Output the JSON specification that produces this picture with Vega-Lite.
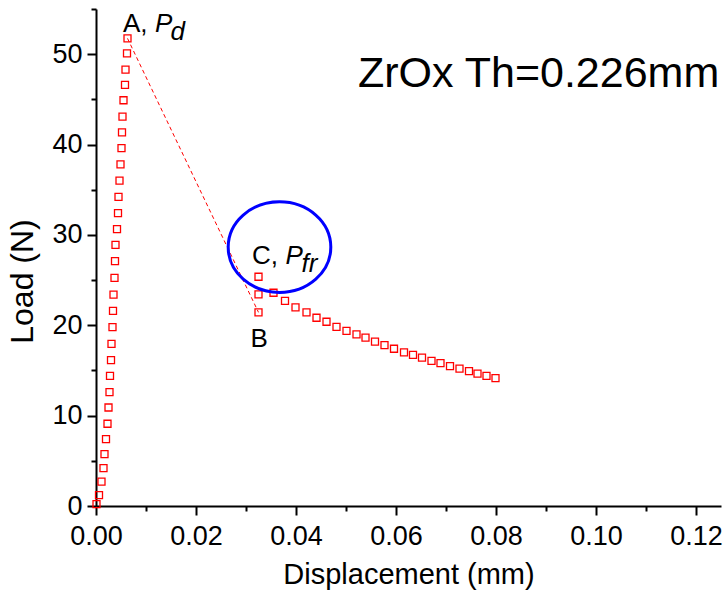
{
  "$schema": "https://vega.github.io/schema/vega-lite/v6.json",
  "width": 625,
  "height": 497,
  "autosize": {"type": "none"},
  "padding": {"left": 96, "top": 9, "right": 2, "bottom": 88},
  "background": "white",
  "config": {
    "font": "Liberation Sans",
    "view": {"stroke": null},
    "axis": {
      "grid": false,
      "domainColor": "black",
      "domainWidth": 2,
      "tickColor": "black",
      "tickWidth": 2,
      "labelColor": "black",
      "titleColor": "black",
      "labelFont": "Liberation Sans",
      "titleFont": "Liberation Sans",
      "labelFontSize": 27,
      "titleFontSize": 29,
      "titleFontWeight": "normal",
      "labelOverlap": false,
      "labelFlush": false
    }
  },
  "datasets": {
    "curve": [
      {"d": 0.0001, "load": 0.2},
      {"d": 0.0006, "load": 1.2},
      {"d": 0.0011, "load": 2.7},
      {"d": 0.0015, "load": 4.2},
      {"d": 0.0017, "load": 5.75},
      {"d": 0.002, "load": 7.4},
      {"d": 0.0023, "load": 9.1},
      {"d": 0.0025, "load": 10.9},
      {"d": 0.0027, "load": 12.6},
      {"d": 0.0028, "load": 14.4},
      {"d": 0.003, "load": 16.15},
      {"d": 0.0031, "load": 17.95},
      {"d": 0.0033, "load": 19.8},
      {"d": 0.0034, "load": 21.6},
      {"d": 0.0035, "load": 23.4},
      {"d": 0.0037, "load": 25.25},
      {"d": 0.0038, "load": 27.1},
      {"d": 0.0039, "load": 28.9},
      {"d": 0.0042, "load": 30.65},
      {"d": 0.0044, "load": 32.4},
      {"d": 0.0045, "load": 34.2},
      {"d": 0.0047, "load": 36.0},
      {"d": 0.0049, "load": 37.8},
      {"d": 0.0051, "load": 39.6},
      {"d": 0.0052, "load": 41.35},
      {"d": 0.0053, "load": 43.1},
      {"d": 0.0055, "load": 44.9},
      {"d": 0.0058, "load": 46.6},
      {"d": 0.0059, "load": 48.3},
      {"d": 0.0062, "load": 50.1},
      {"d": 0.0063, "load": 51.75},
      {"d": 0.0325, "load": 21.43},
      {"d": 0.0325, "load": 23.42},
      {"d": 0.0325, "load": 25.37},
      {"d": 0.0355, "load": 23.6},
      {"d": 0.0378, "load": 22.71},
      {"d": 0.0399, "load": 21.98},
      {"d": 0.0421, "load": 21.43},
      {"d": 0.0441, "load": 20.83},
      {"d": 0.0461, "load": 20.39},
      {"d": 0.0481, "load": 19.83},
      {"d": 0.0501, "load": 19.39},
      {"d": 0.0521, "load": 18.99},
      {"d": 0.0539, "load": 18.64},
      {"d": 0.0558, "load": 18.18},
      {"d": 0.0577, "load": 17.81},
      {"d": 0.0596, "load": 17.4},
      {"d": 0.0616, "load": 17.01},
      {"d": 0.0634, "load": 16.73},
      {"d": 0.0652, "load": 16.43},
      {"d": 0.0671, "load": 16.07},
      {"d": 0.0689, "load": 15.82},
      {"d": 0.0708, "load": 15.49},
      {"d": 0.0727, "load": 15.21},
      {"d": 0.0746, "load": 14.93},
      {"d": 0.0763, "load": 14.66},
      {"d": 0.0781, "load": 14.41},
      {"d": 0.0799, "load": 14.16}
    ],
    "drop": [
      {"d": 0.0063, "load": 51.75},
      {"d": 0.0325, "load": 21.43}
    ],
    "fracture": [
      {"d": 0.0367, "load": 28.65}
    ],
    "pointLabels": [
      {"d": 0.0054, "load": 52.5, "t": "A,"},
      {"d": 0.0312, "load": 26.8, "t": "C,"},
      {"d": 0.0309, "load": 17.6, "t": "B"}
    ],
    "loadSymbols": [
      {"d": 0.0118, "load": 52.5, "t": "P"},
      {"d": 0.0379, "load": 26.8, "t": "P"}
    ],
    "loadSubscripts": [
      {"d": 0.0149, "load": 52.5, "t": "d"},
      {"d": 0.0411, "load": 26.8, "t": "fr"}
    ],
    "specimen": [
      {"d": 0.0524, "load": 46.4, "t": "ZrOx Th=0.226mm"}
    ]
  },
  "encoding": {
    "x": {
      "field": "d",
      "type": "quantitative",
      "scale": {"domain": [0, 0.125], "nice": false, "zero": false},
      "axis": {
        "title": "Displacement (mm)",
        "values": [0, 0.01, 0.02, 0.03, 0.04, 0.05, 0.06, 0.07, 0.08, 0.09, 0.1, 0.11, 0.12],
        "labelExpr": "round(datum.value * 100) % 2 === 0 ? format(datum.value, '.2f') : ''",
        "tickSize": {"condition": {"test": "round(datum.value * 100) % 2 === 0", "value": 9}, "value": 5},
        "labelPadding": 8,
        "titlePadding": 11
      }
    },
    "y": {
      "field": "load",
      "type": "quantitative",
      "scale": {"domain": [0, 55], "nice": false, "zero": false},
      "axis": {
        "title": "Load (N)",
        "titleFontSize": 32,
        "titleY": 272,
        "values": [0, 5, 10, 15, 20, 25, 30, 35, 40, 45, 50, 55],
        "labelExpr": "datum.value % 10 === 0 ? datum.label : ''",
        "tickSize": {"condition": {"test": "datum.value % 10 === 0", "value": 9}, "value": 5},
        "labelPadding": 5,
        "titlePadding": 12
      }
    }
  },
  "layer": [
    {
      "data": {"name": "drop"},
      "mark": {"type": "line", "color": "#ff0000", "strokeWidth": 1, "strokeDash": [4, 3]}
    },
    {
      "data": {"name": "curve"},
      "mark": {"type": "point", "shape": "square", "filled": false, "color": "#ff0000", "strokeWidth": 1.3, "size": 49, "opacity": 1}
    },
    {
      "data": {"name": "fracture"},
      "mark": {
        "type": "point",
        "shape": "M -1 0 A 1 0.883 0 1 0 1 0 A 1 0.883 0 1 0 -1 0 Z",
        "filled": false,
        "color": "#0000ff",
        "strokeWidth": 3,
        "size": 10530,
        "opacity": 1
      }
    },
    {
      "data": {"name": "pointLabels"},
      "mark": {"type": "text", "align": "left", "baseline": "alphabetic", "fontSize": 26, "color": "black"},
      "encoding": {"text": {"field": "t"}}
    },
    {
      "data": {"name": "loadSymbols"},
      "mark": {"type": "text", "align": "left", "baseline": "alphabetic", "fontSize": 26, "fontStyle": "italic", "color": "black"},
      "encoding": {"text": {"field": "t"}}
    },
    {
      "data": {"name": "loadSubscripts"},
      "mark": {"type": "text", "align": "left", "baseline": "alphabetic", "fontSize": 26, "fontStyle": "italic", "dy": 8, "color": "black"},
      "encoding": {"text": {"field": "t"}}
    },
    {
      "data": {"name": "specimen"},
      "mark": {"type": "text", "align": "left", "baseline": "alphabetic", "fontSize": 43, "color": "black"},
      "encoding": {"text": {"field": "t"}}
    }
  ]
}
